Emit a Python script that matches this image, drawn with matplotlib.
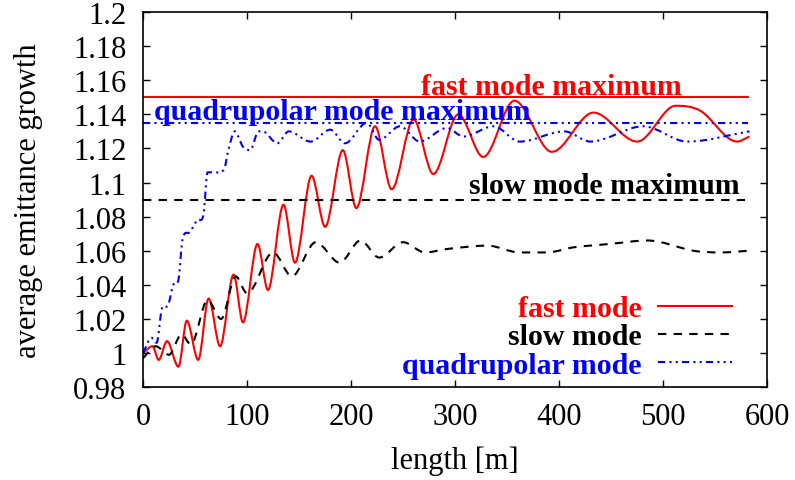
import numpy as np
import matplotlib
matplotlib.use("Agg")
import matplotlib.pyplot as plt
from matplotlib.path import Path
from matplotlib.patches import PathPatch
from matplotlib.lines import Line2D
from matplotlib.ticker import FuncFormatter

# ---- data -----------------------------------------------------------------
fast_x = [0, 9, 15, 23, 34, 42, 53, 63, 74, 87, 96, 110, 120, 135, 146, 162,
          175, 192, 205, 223, 239, 260, 279, 303, 327, 357, 393, 433, 475,
          512, 536, 571, 583]
fast_y = [1.000, 1.004, 0.996, 1.007, 0.992, 1.019, 0.996, 1.032, 1.004,
          1.046, 1.018, 1.064, 1.037, 1.087, 1.053, 1.104, 1.074, 1.119,
          1.085, 1.133, 1.096, 1.137, 1.105, 1.140, 1.115, 1.148, 1.118,
          1.141, 1.124, 1.145, 1.142, 1.124, 1.127]

slow_x = [0, 12, 25, 37, 46, 62, 75, 89, 100, 125, 143, 166, 189, 209, 227,
          250, 271, 292, 331, 362, 388, 414, 449, 485, 529, 555, 583]
slow_y = [0.997, 1.004, 0.999, 1.011, 1.005, 1.031, 1.020, 1.045, 1.035,
          1.059, 1.045, 1.065, 1.053, 1.066, 1.056, 1.065, 1.059, 1.061,
          1.063, 1.059, 1.059, 1.062, 1.064, 1.066, 1.060, 1.059, 1.060]

quad_x = [0, 8, 13, 18, 24, 29, 34, 38, 45, 52, 58, 62, 70, 78, 82, 88, 96,
          103, 111, 115, 129, 140, 161, 180, 194, 215, 227, 247, 266, 292,
          308, 337, 362, 405, 430, 481, 523, 583]
quad_y = [1.000, 1.009, 1.006, 1.026, 1.028, 1.040, 1.043, 1.067, 1.071,
          1.078, 1.081, 1.106, 1.106, 1.108, 1.119, 1.130, 1.121, 1.119,
          1.130, 1.130, 1.123, 1.130, 1.124, 1.131, 1.123, 1.135, 1.125,
          1.133, 1.124, 1.132, 1.127, 1.133, 1.124, 1.130, 1.124, 1.133,
          1.124, 1.130]

fast_max = 1.15
quad_max = 1.135
slow_max = 1.09
max_span = [0, 582]

x_ticks = [0, 100, 200, 300, 400, 500, 600]
y_ticks = [0.98, 1.0, 1.02, 1.04, 1.06, 1.08, 1.1, 1.12, 1.14, 1.16, 1.18, 1.2]

series_labels = ["fast mode", "slow mode", "quadrupolar mode"]
colors = ["#ff0000", "#000000", "#0000ff"]
styles = ["-", (0, (4, 3.5)), (0, (3.5, 2, 1, 2, 1, 2))]

# ---- helpers --------------------------------------------------------------
def smooth_path(xs, ys):
    """Cubic Bezier path through the points (flat tangents at local extrema)."""
    xs = np.asarray(xs, float)
    ys = np.asarray(ys, float)
    n = len(xs)
    slopes = np.zeros(n)
    for i in range(n):
        if i == 0:
            slopes[i] = (ys[1] - ys[0]) / (xs[1] - xs[0])
        elif i == n - 1:
            slopes[i] = (ys[-1] - ys[-2]) / (xs[-1] - xs[-2])
        else:
            d0 = ys[i] - ys[i - 1]
            d1 = ys[i + 1] - ys[i]
            if d0 * d1 <= 0:
                slopes[i] = 0.0
            else:
                slopes[i] = (ys[i + 1] - ys[i - 1]) / (xs[i + 1] - xs[i - 1])
    verts = [(xs[0], ys[0])]
    codes = [Path.MOVETO]
    for i in range(n - 1):
        h = (xs[i + 1] - xs[i]) / 3.0
        verts += [(xs[i] + h, ys[i] + slopes[i] * h),
                  (xs[i + 1] - h, ys[i + 1] - slopes[i + 1] * h),
                  (xs[i + 1], ys[i + 1])]
        codes += [Path.CURVE4] * 3
    return Path(verts, codes)


plt.rcParams["font.family"] = ["Liberation Serif", "DejaVu Serif"]
plt.rcParams["font.size"] = 22

fig = plt.figure(figsize=(7.95, 4.81), dpi=100)
ax = fig.add_axes([0.180, 0.193, 0.785, 0.780])

lw = 1.5
for xs, ys, c, ls in zip([fast_x, slow_x, quad_x], [fast_y, slow_y, quad_y],
                         colors, styles):
    ax.add_patch(PathPatch(smooth_path(xs, ys), facecolor="none",
                           edgecolor=c, lw=lw, linestyle=ls,
                           capstyle="butt", joinstyle="round"))

# maximum levels
ax.plot(max_span, [fast_max, fast_max], color=colors[0], lw=lw, ls=styles[0])
ax.plot(max_span, [slow_max, slow_max], color=colors[1], lw=lw, ls=styles[1])
ax.plot(max_span, [quad_max, quad_max], color=colors[2], lw=lw, ls=styles[2])

ann_size = 21.5
ax.text(393, 1.1519, "fast mode maximum", color=colors[0], weight="bold",
        ha="center", va="baseline", size=ann_size)
ax.text(191, 1.1372, "quadrupolar mode maximum", color=colors[2],
        weight="bold", ha="center", va="baseline", size=ann_size)
ax.text(443, 1.0938, "slow mode maximum", color=colors[1], weight="bold",
        ha="center", va="baseline", size=ann_size)

ax.set_xlim(0, 600)
ax.set_ylim(0.98, 1.2)
ax.set_xticks(x_ticks)
ax.set_yticks(y_ticks)
ax.yaxis.set_major_formatter(FuncFormatter(lambda v, p: "%g" % round(v, 2)))
ax.tick_params(direction="in", length=5, width=1, top=True, right=True)
ax.tick_params(axis="x", pad=11)
ax.tick_params(axis="y", pad=12)
for s in ax.spines.values():
    s.set_linewidth(1.2)

ax.set_xlabel("length [m]", labelpad=10)
ax.set_ylabel("average emittance growth", labelpad=22)

handles = [Line2D([], [], color=c, lw=lw, ls=ls) for c, ls in zip(colors, styles)]
leg = ax.legend(handles, series_labels, loc="lower right",
                bbox_to_anchor=(0.954, 0.006), frameon=False, markerfirst=False,
                handlelength=2.5, handletextpad=0.55, labelspacing=0.05,
                borderpad=0.2, borderaxespad=0.0,
                prop={"weight": "bold", "size": ann_size})
for t, c in zip(leg.get_texts(), colors):
    t.set_color(c)

fig.savefig("out.png", dpi=100)
